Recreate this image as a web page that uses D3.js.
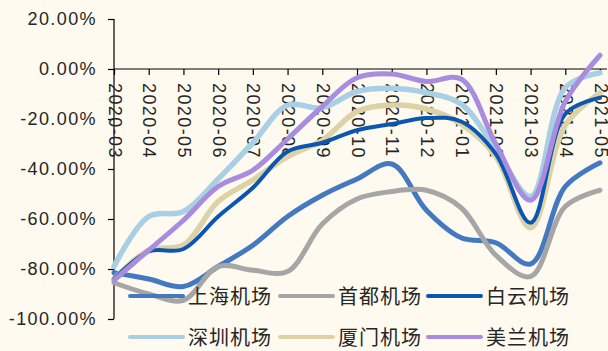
<!DOCTYPE html>
<html>
<head>
<meta charset="utf-8">
<script src="https://cdn.jsdelivr.net/npm/d3@7"></script>
<style>
  html, body { margin: 0; padding: 0; background: #fefaef; }
  svg { display: block; }
  text { font-family: "Liberation Sans", Arial, "Noto Sans CJK SC", sans-serif; fill: #262626; }
</style>
</head>
<body>
<svg id="chart" width="608" height="351"></svg>
<script>
// Monthly passenger change vs. same month of 2019 (%)
const months = ["2020-03","2020-04","2020-05","2020-06","2020-07","2020-08","2020-09","2020-10",
                "2020-11","2020-12","2021-01","2021-02","2021-03","2021-04","2021-05"];
const shanghai = [-81.5, -84, -87, -79, -70.5, -59, -50.5, -44, -38, -56.5, -67.5, -69.5, -78, -47, -37.5];
const shoudu   = [-85.5, -90, -92.5, -79, -80.5, -81, -62, -52, -49, -48.5, -55.5, -74.5, -83, -55, -48.5];
const baiyun   = [-84, -73, -72, -59, -47.5, -33, -29.5, -24.5, -22, -19.6, -21, -34, -61.5, -18, -11.5];
const shenzhen = [-79, -59, -57, -44, -29.5, -14.5, -15.5, -9, -7.7, -9.5, -14, -32, -51, -7.5, -1.5];
const xiamen   = [-84, -72.5, -70.4, -53, -44.4, -35, -28.5, -17, -14.4, -16, -22, -35, -63.5, -22.5, -9.5];
const meilan   = [-84.5, -72.5, -60.5, -47, -40.5, -28, -15, -3.5, -2, -5, -4, -30, -52.5, -13, 5.5];
const yTicks = [20, 0, -20, -40, -60, -80, -100];

const seriesNames = ["上海机场", "首都机场", "白云机场", "深圳机场", "厦门机场", "美兰机场"];
const seriesValues = [shanghai, shoudu, baiyun, shenzhen, xiamen, meilan];
const seriesColors = ["#4479c1", "#a6a6a6", "#0a56b0", "#a8cfe4", "#ddd1a6", "#a88ddf"];
const seriesWidths = [5, 5, 4, 5.5, 5.5, 5];
// drawing order (white cloud line kept above Xiamen)
const drawOrder = [0, 1, 3, 4, 2, 5];

const svg = d3.select("#chart");

const x = d3.scalePoint().domain(months).range([114, 600]);
const y = d3.scaleLinear().domain([-100, 20]).range([319, 19]);

// y axis
const yAxis = d3.axisLeft(y).tickValues(yTicks).tickSize(6).tickPadding(11)
  .tickFormat(d => d.toFixed(2) + "%");
const gy = svg.append("g").attr("transform", "translate(114,0)").call(yAxis);
gy.select(".domain").attr("stroke", "#000").attr("stroke-width", 1.2).attr("d", "M0," + y(20) + "V" + y(-100));
gy.selectAll(".tick line").attr("stroke", "#000").attr("stroke-width", 1.2);
gy.selectAll(".tick text").attr("font-size", 18).attr("letter-spacing", "1.4px")
  .attr("fill", "#262626").attr("font-family", "'Liberation Sans', Arial, sans-serif");

// x axis along the zero line
const xAxis = d3.axisBottom(x).tickSize(6).tickSizeOuter(0).tickPadding(0);
const gx = svg.append("g").attr("transform", "translate(0," + y(0) + ")").call(xAxis);
gx.select(".domain").attr("stroke", "#000").attr("stroke-width", 1.2).attr("d", "M114,0H607");
gx.selectAll(".tick line").attr("stroke", "#000").attr("stroke-width", 1.2);
gx.selectAll(".tick text")
  .attr("font-size", 18).attr("letter-spacing", "1.4px").attr("fill", "#262626")
  .attr("font-family", "'Liberation Sans', Arial, sans-serif")
  .attr("text-anchor", "start").attr("dy", null).attr("y", 0)
  .attr("dominant-baseline", "central")
  .attr("transform", "translate(0,14) rotate(90)");

// series lines
const line = d3.line()
  .x((d, i) => x(months[i]))
  .y(d => y(d))
  .curve(d3.curveCatmullRom.alpha(0.5));

const gLines = svg.append("g");
drawOrder.forEach(k => {
  gLines.append("path")
    .datum(seriesValues[k])
    .attr("d", line)
    .attr("fill", "none")
    .attr("stroke", seriesColors[k])
    .attr("stroke-width", seriesWidths[k])
    .attr("stroke-linecap", "round")
    .attr("stroke-linejoin", "round");
});

// legend: two rows of three
const legendX = [130, 280, 428];
const legendY = [296, 337];
const gLeg = svg.append("g");
seriesNames.forEach((name, k) => {
  const lx = legendX[k % 3], ly = legendY[Math.floor(k / 3)];
  gLeg.append("line")
    .attr("x1", lx).attr("x2", lx + 53).attr("y1", ly).attr("y2", ly)
    .attr("stroke", seriesColors[k]).attr("stroke-width", 4).attr("stroke-linecap", "round");
  gLeg.append("text")
    .attr("x", lx + 58).attr("y", ly + 1)
    .attr("dominant-baseline", "central")
    .attr("font-size", 20).attr("letter-spacing", "1px")
    .attr("font-family", "'Noto Sans CJK SC', sans-serif")
    .text(name);
});
</script>
</body>
</html>
